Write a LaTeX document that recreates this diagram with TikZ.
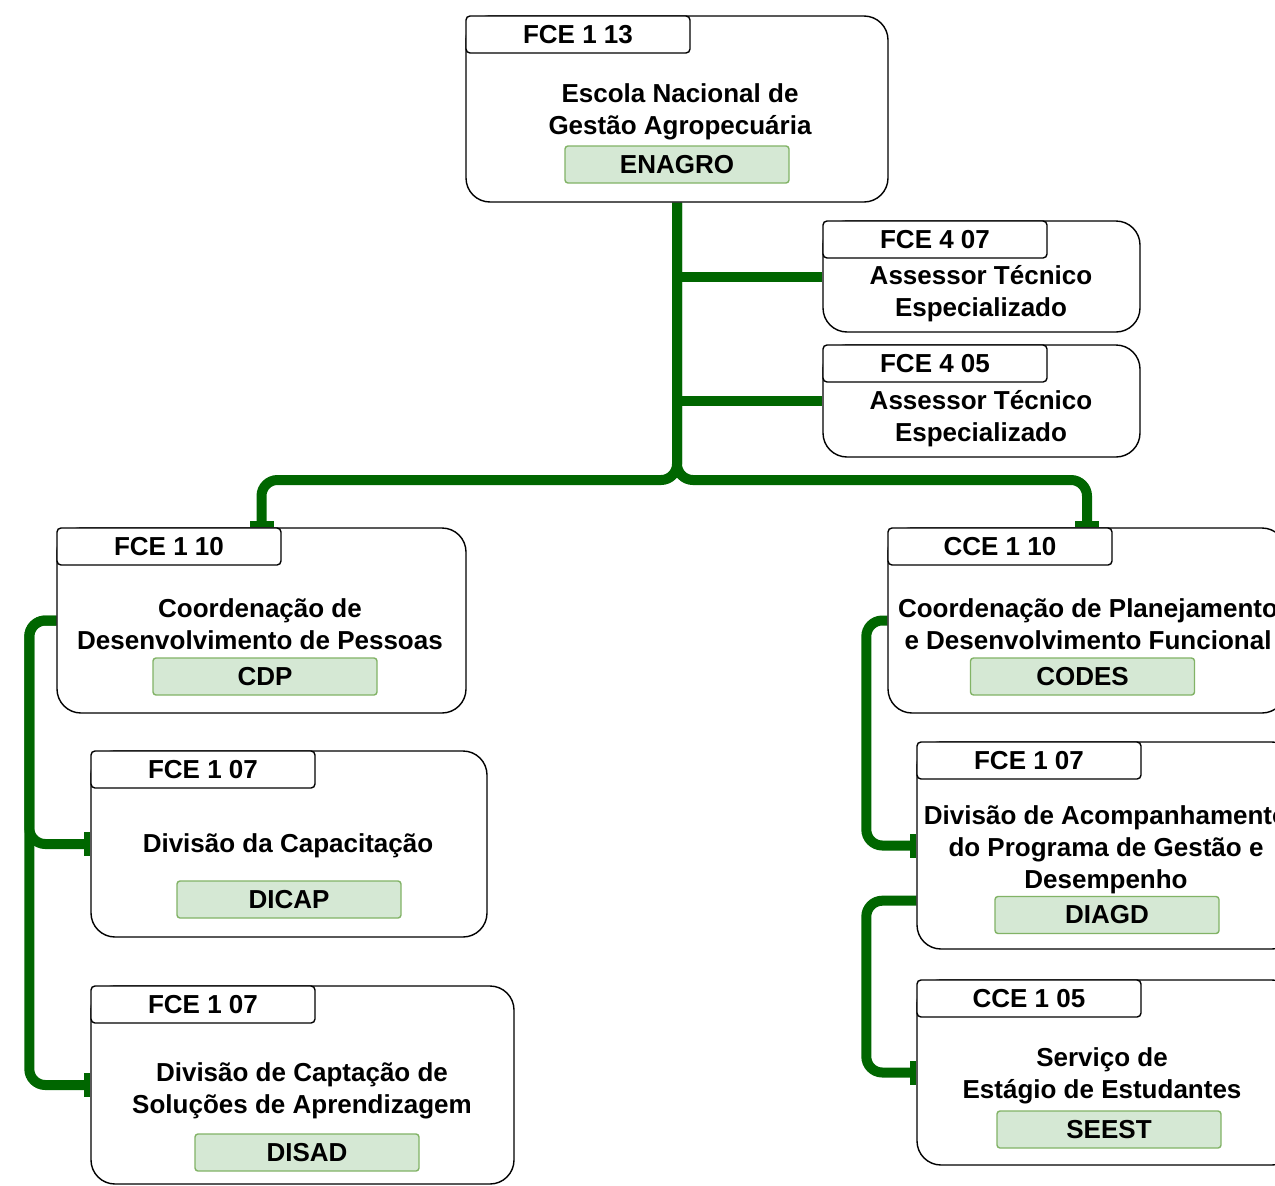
\documentclass[tikz,border=0pt]{standalone}
\usepackage{fontspec}
\setmainfont{Liberation Sans}
\usetikzlibrary{arrows.meta,calc,backgrounds}
\definecolor{lgreen}{HTML}{006600}
\definecolor{cfill}{HTML}{D5E8D4}
\definecolor{cdraw}{HTML}{82B366}
\begin{document}
\begin{tikzpicture}[x=1pt,y=-1pt,
  every node/.style={font=\fontsize{26}{32}\selectfont\bfseries},
  unit/.style={draw=black,line width=1.4pt,rounded corners=24pt,fill=white,inner sep=0pt},
  tagbox/.style={draw=black,line width=1.4pt,rounded corners=4pt,fill=white,inner sep=0pt,minimum width=224pt,minimum height=37pt,anchor=north west},
  codebox/.style={draw=cdraw,line width=1.4pt,rounded corners=3pt,fill=cfill,inner sep=0pt,minimum width=224pt,minimum height=37pt},
  txt/.style={align=center,inner sep=0pt},
  conn/.style={draw=lgreen,line width=10pt,rounded corners=16pt},
  bar/.style={-{Rectangle[length=6pt,width=24pt,line width=0pt]}},
]
\useasboundingbox (0,0) rectangle (1275,1186);
\clip (0,0) rectangle (1275,1186);

% ENAGRO
\node[unit,minimum width=422pt,minimum height=186pt] (enagro) at (677,109) {};
\node[tagbox] (enagrotag) at (enagro.north west) {FCE 1 13};
\node[txt] (enagroname) at (680,112) {Escola Nacional de\\Gestão Agropecuária};
\node[codebox] (enagrocode) at (677,164.5) {ENAGRO};

% Assessors
\node[unit,minimum width=317pt,minimum height=111pt] (ate1) at (981.5,276.5) {};
\node[tagbox] (ate1tag) at (ate1.north west) {FCE 4 07};
\node[txt] (ate1name) at (981,294) {Assessor Técnico\\Especializado};

\node[unit,minimum width=317pt,minimum height=112pt] (ate2) at (981.5,401) {};
\node[tagbox] (ate2tag) at (ate2.north west) {FCE 4 05};
\node[txt] (ate2name) at (981,419) {Assessor Técnico\\Especializado};

% CDP
\node[unit,minimum width=409pt,minimum height=185pt] (cdp) at (261.5,620.5) {};
\node[tagbox] (cdptag) at (cdp.north west) {FCE 1 10};
\node[txt] (cdpname) at (260,624) {Coordenação de\\Desenvolvimento de Pessoas};
\node[codebox] (cdpcode) at (265,676.5) {CDP};

% DICAP
\node[unit,minimum width=396pt,minimum height=186pt] (dicap) at (289,844) {};
\node[tagbox] (dicaptag) at (dicap.north west) {FCE 1 07};
\node[txt] (dicapname) at (288,846) {Divisão da Capacitação};
\node[codebox] (dicapcode) at (289,899.5) {DICAP};

% DISAD
\node[unit,minimum width=423pt,minimum height=198pt] (disad) at (302.5,1085) {};
\node[tagbox] (disadtag) at (disad.north west) {FCE 1 07};
\node[txt] (disadname) at (302,1091) {Divisão de Captação de\\Soluções de Aprendizagem};
\node[codebox] (disadcode) at (307,1152.5) {DISAD};

% CODES
\node[unit,minimum width=398pt,minimum height=185pt] (codes) at (1087,620.5) {};
\node[tagbox] (codestag) at (codes.north west) {CCE 1 10};
\node[txt] (codesname) at (1088,624) {Coordenação de Planejamento\\e Desenvolvimento Funcional};
\node[codebox] (codescode) at (1082.5,676.5) {CODES};

% DIAGD
\node[unit,minimum width=379pt,minimum height=207pt] (diagd) at (1106.5,845.5) {};
\node[tagbox] (diagdtag) at (diagd.north west) {FCE 1 07};
\node[txt] (diagdname) at (1106,850) {Divisão de Acompanhamento\\do Programa de Gestão e\\Desempenho};
\node[codebox] (diagdcode) at (1107,915) {DIAGD};

% SEEST
\node[unit,minimum width=379pt,minimum height=185pt] (seest) at (1106.5,1072.5) {};
\node[tagbox] (seesttag) at (seest.north west) {CCE 1 05};
\node[txt] (seestname) at (1102,1076) {Serviço de\\Estágio de Estudantes};
\node[codebox] (seestcode) at (1109,1129.5) {SEEST};

\begin{scope}[on background layer]
  \coordinate (split) at (677,480);
  \draw[conn,bar] (enagro.south) -- (split) -| (cdp.north);
  \draw[conn,bar] (enagro.south) -- (split) -| (codes.north);
  \draw[conn] (enagro.south |- ate1.west) -- (ate1.west);
  \draw[conn] (enagro.south |- ate2.west) -- (ate2.west);
  \draw[conn,bar] (cdp.west) -- ++(-27,0) |- (dicap.west);
  \draw[conn,bar] (cdp.west) -- ++(-27,0) |- (disad.west);
  \draw[conn,bar] (codes.west) -- ++(-21,0) |- (diagd.west);
  \coordinate (diagdout) at ($(diagd.south west)+(0,-49)$);
  \draw[conn,bar] (diagdout) -- ++(-50,0) |- (seest.west);
\end{scope}
\end{tikzpicture}
\end{document}
